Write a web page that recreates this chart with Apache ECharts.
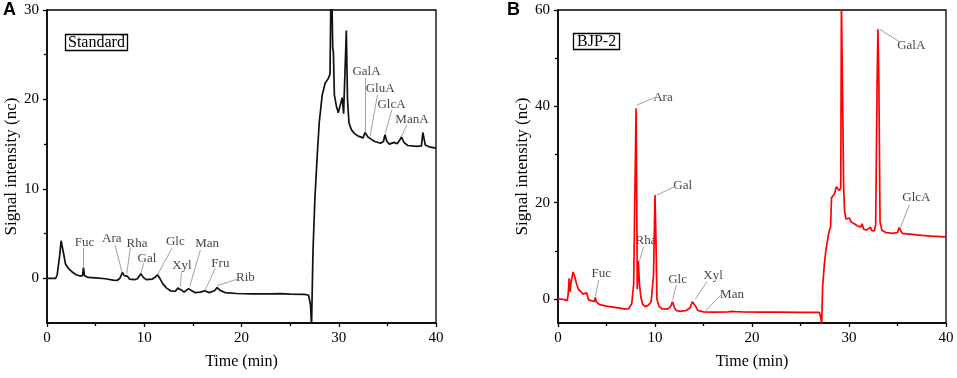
<!DOCTYPE html>
<html>
<head>
<meta charset="utf-8">
<script src="https://cdn.jsdelivr.net/npm/echarts@6/dist/echarts.min.js"></script>
<style>
  html, body { margin: 0; padding: 0; background: #fff; }
  #chart { width: 957px; height: 378px; }
</style>
</head>
<body>
<div id="chart"></div>
<script>
// Panel A: standard monosaccharides (time in min, signal in nc)
var timeA = [0, 0.9, 1.05, 1.15, 1.3, 1.45, 1.55, 1.7, 1.9, 2.2, 2.6, 3.0, 3.4, 3.65, 3.75, 3.85, 4.2, 5.0, 6.0, 6.8,
  7.2, 7.5, 7.75, 7.95, 8.1, 8.25, 8.5, 9.0, 9.3, 9.65, 9.9, 10.2, 10.8, 11.15, 11.35, 11.6, 11.9, 12.3, 12.7, 13.2,
  13.45, 13.6, 13.8, 14.1, 14.55, 14.8, 15.2, 15.8, 16.2, 16.35, 16.7, 17.2, 17.5, 17.8, 18.3, 19.5, 21, 23, 24, 25,
  26.5, 26.9, 27.1, 27.2, 27.35, 27.55, 27.8, 28.0, 28.3, 28.6, 28.9, 29.1, 29.2, 29.3, 29.38, 29.45, 29.55, 29.75, 29.95, 30.15,
  30.35, 30.5, 30.65, 30.78, 30.9, 31.05, 31.3, 31.6, 32.0, 32.5, 32.7, 32.85, 33.0, 33.2, 33.4, 33.7, 34.3, 34.6, 34.75, 34.95,
  35.2, 35.7, 36.0, 36.3, 36.45, 36.7, 37.1, 38.0, 38.5, 38.65, 38.75, 38.9, 39.3, 40];
var signalA = [0, 0, 0.4, 0.6, 2.5, 4.2, 4.1, 2.8, 1.6, 1.1, 0.7, 0.4, 0.25, 0.3, 1.2, 0.3, 0.1, 0.05, -0.05, -0.2,
  -0.25, 0.0, 0.65, 0.3, 0.1, 0.25, -0.1, -0.15, -0.05, 0.5, 0.1, -0.15, -0.1, 0.15, 0.4, 0.0, -0.6, -1.1, -1.4, -1.45,
  -1.1, -1.0, -1.3, -1.55, -1.15, -1.35, -1.6, -1.55, -1.4, -1.4, -1.6, -1.4, -1.05, -1.35, -1.6, -1.7, -1.75, -1.75, -1.72, -1.78,
  -1.8, -1.9, -3, -5.5, 3, 9, 14, 17.5, 20.5, 21.8, 22.3, 22.8, 32, 31, 25.8, 25.3, 20.5, 19.3, 18.5, 18.7,
  20.2, 18.4, 18.5, 27.7, 20, 17.4, 16.6, 16.2, 15.9, 15.7, 16.3, 16.2, 15.8, 16.0, 15.5, 15.3, 15.1, 15.3, 16.05, 15.3,
  15.0, 15.2, 15.05, 15.5, 15.8, 15.2, 14.85, 14.75, 14.8, 16.3, 16.3, 14.9, 14.7, 14.55];

// Panel B: BJP-2 sample
var timeB = [0, 0.5, 0.95, 1.05, 1.15, 1.25, 1.35, 1.55, 1.7, 1.9, 2.1, 2.25, 2.35, 2.6, 2.8, 2.95, 3.05, 3.15, 3.5, 3.75,
  3.85, 3.95, 4.3, 5, 6, 7.0, 7.3, 7.6, 7.8, 7.95, 8.05, 8.12, 8.17, 8.28, 8.4, 8.55, 8.75, 9.0, 9.3, 9.6,
  9.85, 10.0, 10.1, 10.2, 10.4, 10.7, 11.3, 11.6, 11.8, 12.0, 12.2, 12.6, 13.2, 13.6, 13.85, 13.98, 14.15, 14.4, 15.0, 16,
  17.5, 18.0, 18.3, 19, 21, 23, 25, 26.95, 27.1, 27.18, 27.28, 27.45, 27.6, 27.9, 28.1, 28.2, 28.4, 28.5, 28.7, 28.85,
  29.0, 29.15, 29.22, 29.35, 29.45, 29.55, 29.7, 29.9, 30.05, 30.2, 30.4, 30.55, 30.7, 30.85, 31.0, 31.2, 31.35, 31.5, 31.8, 32.0,
  32.2, 32.35, 32.6, 32.75, 32.9, 32.98, 33.08, 33.2, 33.4, 33.8, 34.5, 35.0, 35.15, 35.3, 35.5, 36.5, 37.5, 38.5, 40];
var signalB = [0, -0.1, -0.3, 1, 4.3, 1.5, 3.5, 5.6, 4.8, 3.2, 2.0, 1.9, 1.5, 1.0, 0.6, 1.3, 1.3, -0.2, -0.4, -0.5,
  0.3, -0.6, -1.2, -1.5, -1.8, -2.1, -2.0, -1.0, 3, 25, 39.6, 20, 2, 7.9, 3, 0.3, -1.2, -1.6, -1.3, -0.6,
  5, 21.6, 12, 0, -1.5, -2.0, -2.1, -1.6, -0.6, -1.8, -2.4, -2.6, -2.4, -1.9, -0.6, -0.4, -1.4, -2.4, -2.7, -2.75,
  -2.7, -2.6, -2.65, -2.7, -2.75, -2.75, -2.8, -2.8, -4, -5.5, 2.5, 7, 9.8, 13.6, 15, 21, 21.3, 21.8, 23.3, 23.2,
  22.5, 23, 62, 62, 23, 18, 16.6, 16.3, 16.8, 16.0, 16.2, 15.6, 15.9, 15.2, 15.5, 14.9, 15.6, 14.5, 14.3, 14.3,
  14.9, 14.2, 14.1, 15.3, 45, 56, 45, 16, 14.2, 13.8, 13.6, 13.8, 14.8, 14.3, 13.6, 13.4, 13.2, 13.05, 12.9];

// peak annotations: name, text centre [time, signal], leader line [from, to]
var namesA = ['Fuc', 'Ara', 'Rha', 'Gal', 'Glc', 'Xyl', 'Man', 'Fru', 'Rib', 'GalA', 'GluA', 'GlcA', 'ManA'];
var textA = [[3.85, 4.03], [6.67, 4.48], [9.25, 3.9], [10.28, 2.24], [13.2, 4.1], [13.88, 1.38], [16.46, 3.92],
  [17.83, 1.68], [20.4, 0.07], [32.85, 23.07], [34.26, 21.2], [35.43, 19.48], [37.53, 17.8]];
var leaderA = [[[3.75, 3.4], [3.75, 1.3]], [[6.99, 3.73], [7.7, 0.74]], [[8.56, 3.36], [8.2, 0.48]],
  [[9.93, 1.68], [9.65, 0.56]], [[12.85, 3.36], [11.37, 0.4]], [[13.83, 0.64], [13.71, -0.94]],
  [[15.77, 3.17], [14.67, -0.94]], [[17.3, 1.12], [16.27, -1.31]], [[19.6, -0.08], [17.5, -0.83]],
  [[32.71, 22.4], [32.71, 16.3]], [[33.98, 20.5], [33.22, 15.86]], [[35.46, 18.85], [34.78, 16.2]],
  [[37.0, 17.17], [36.46, 15.86]]];

var namesB = ['Fuc', 'Ara', 'Rha', 'Gal', 'Glc', 'Xyl', 'Man', 'GalA', 'GlcA'];
var textB = [[4.46, 5.19], [10.82, 41.87], [9.07, 12.1], [12.85, 23.52], [12.33, 4.09], [15.98, 4.77],
  [17.94, 0.83], [36.42, 52.6], [36.94, 21.0]];
var leaderB = [[[4.19, 3.94], [3.85, 0.48]], [[10.03, 41.87], [8.14, 40.27]], [[8.82, 10.86], [8.41, 7.95]],
  [[12.02, 23.3], [10.2, 21.6]], [[12.2, 2.9], [11.82, -0.2]], [[15.36, 3.6], [14.15, -0.07]],
  [[16.8, 0.83], [15.08, -2.77]], [[35.22, 53.4], [33.15, 56.0]], [[36.22, 19.5], [35.29, 14.8]]];

var xTicks = [0, 10, 20, 30, 40];
var yTicksA = [0, 10, 20, 30];
var yMinorA = [5, 15, 25];
var yTicksB = [0, 20, 40, 60];
var yMinorB = [10, 30, 50];

var serif = "'Liberation Serif', 'Times New Roman', serif";

function zip(xs, ys) {
  var out = [];
  for (var i = 0; i < xs.length; i++) out.push([xs[i], ys[i]]);
  return out;
}
function leaders(list) {
  return list.map(function (p) { return [{ coord: p[0] }, { coord: p[1] }]; });
}
function labelData(names, pos) {
  return names.map(function (n, i) { return { name: n, value: pos[i] }; });
}

function xAxisOf(grid) {
  return {
    type: 'value', gridIndex: grid, min: 0, max: 40, interval: 10,
    name: 'Time (min)', nameLocation: 'middle', nameGap: 31,
    nameTextStyle: { fontFamily: serif, fontSize: 16, color: '#000' },
    axisLine: { onZero: false, lineStyle: { color: '#000', width: 1.5 } },
    axisTick: { show: true, length: 4, lineStyle: { color: '#000', width: 1.3 } },
    minorTick: { show: true, splitNumber: 2, length: 3, lineStyle: { color: '#000', width: 1.3 } },
    axisLabel: { fontFamily: serif, fontSize: 15, color: '#000', margin: 8,
      customValues: xTicks },
    splitLine: { show: false }
  };
}
function yAxisOf(grid, max, ticks, minor) {
  return [{
    type: 'value', gridIndex: grid, min: -5, max: max,
    name: 'Signal intensity (nc)', nameLocation: 'middle', nameGap: 27,
    nameTextStyle: { fontFamily: serif, fontSize: 17, color: '#000' },
    axisLine: { onZero: false, lineStyle: { color: '#000', width: 1.5 } },
    axisTick: { show: true, length: 4, customValues: ticks, lineStyle: { color: '#000', width: 1.3 } },
    axisLabel: { fontFamily: serif, fontSize: 15, color: '#000', margin: 8, customValues: ticks },
    splitLine: { show: false }
  }, {
    type: 'value', gridIndex: grid, min: -5, max: max, position: 'left',
    axisLine: { show: false },
    axisTick: { show: true, length: 3, customValues: minor, lineStyle: { color: '#000', width: 1.3 } },
    axisLabel: { show: false },
    splitLine: { show: false }
  }];
}

var chart = echarts.init(document.getElementById('chart'));
chart.setOption({
  backgroundColor: '#fff',
  animation: false,
  title: [
    { text: 'A', left: 3, top: 1, textStyle: { fontFamily: 'Arial, Liberation Sans, sans-serif', fontWeight: 'bold', fontSize: 18, color: '#000' }, padding: 0 },
    { text: 'B', left: 507, top: 1, textStyle: { fontFamily: 'Arial, Liberation Sans, sans-serif', fontWeight: 'bold', fontSize: 18, color: '#000' }, padding: 0 },
    { text: 'Standard', left: 65, top: 34, padding: [1, 3, 0, 3], borderColor: '#000', borderWidth: 1.3,
      textStyle: { fontFamily: serif, fontWeight: 'normal', fontSize: 16, color: '#000' } },
    { text: 'BJP-2', left: 573, top: 33, padding: [1, 4, 0, 4], borderColor: '#000', borderWidth: 1.3,
      textStyle: { fontFamily: serif, fontWeight: 'normal', fontSize: 16, color: '#000' } }
  ],
  grid: [
    { left: 47, right: 521, top: 10, bottom: 55, show: true, borderColor: '#000', borderWidth: 1.3 },
    { left: 558, right: 11, top: 10, bottom: 55, show: true, borderColor: '#000', borderWidth: 1.3 }
  ],
  xAxis: [xAxisOf(0), xAxisOf(1)],
  yAxis: yAxisOf(0, 30, yTicksA, yMinorA).concat(yAxisOf(1, 60, yTicksB, yMinorB)),
  series: [
    {
      type: 'line', xAxisIndex: 0, yAxisIndex: 0, data: zip(timeA, signalA),
      showSymbol: false, symbol: 'none', clip: true,
      lineStyle: { color: '#111', width: 1.7 },
      markLine: { silent: true, symbol: ['none', 'none'], animation: false,
        lineStyle: { color: '#8a8a8a', width: 0.8, type: 'solid' }, label: { show: false },
        data: leaders(leaderA) }
    },
    {
      type: 'scatter', xAxisIndex: 0, yAxisIndex: 0, data: labelData(namesA, textA),
      symbolSize: 1, itemStyle: { color: 'rgba(0,0,0,0)' }, silent: true,
      label: { show: true, position: 'inside', formatter: '{b}', fontFamily: serif, fontSize: 13, color: '#111' }
    },
    {
      type: 'line', xAxisIndex: 1, yAxisIndex: 2, data: zip(timeB, signalB),
      showSymbol: false, symbol: 'none', clip: true,
      lineStyle: { color: '#ff0000', width: 1.7 },
      markLine: { silent: true, symbol: ['none', 'none'], animation: false,
        lineStyle: { color: '#8a8a8a', width: 0.8, type: 'solid' }, label: { show: false },
        data: leaders(leaderB) }
    },
    {
      type: 'scatter', xAxisIndex: 1, yAxisIndex: 2, data: labelData(namesB, textB),
      symbolSize: 1, itemStyle: { color: 'rgba(0,0,0,0)' }, silent: true,
      label: { show: true, position: 'inside', formatter: '{b}', fontFamily: serif, fontSize: 13, color: '#111' }
    }
  ]
});
</script>
</body>
</html>
